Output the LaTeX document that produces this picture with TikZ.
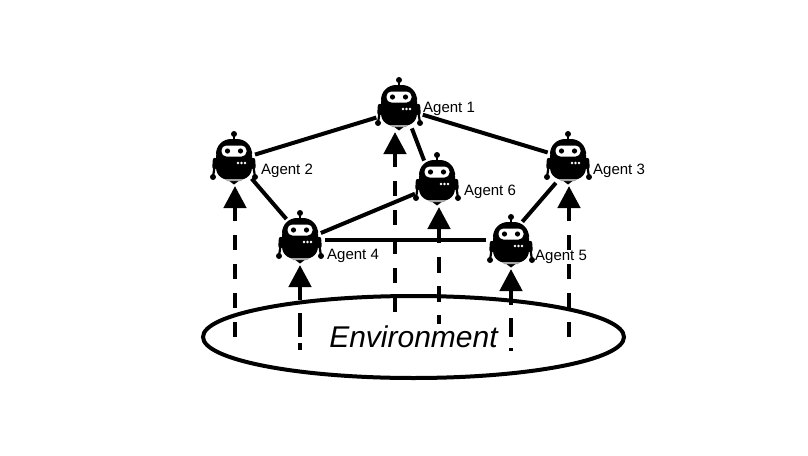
\documentclass[tikz,border=0pt]{standalone}
\usepackage{fontspec}
\setmainfont{Liberation Sans}
\usetikzlibrary{shapes.geometric,arrows.meta}

\tikzstyle{agent} = [circle, minimum size=50pt, inner sep=0pt, outer sep=0pt]
\tikzstyle{agentlabel} = [font=\fontsize{15}{18}\selectfont, inner sep=0pt, anchor=west]
\tikzstyle{link} = [line width=4pt]
\tikzstyle{input} = [line width=4.5pt, -{Triangle[length=22pt,width=22pt]}]
\tikzset{
  robot/.pic={
    \fill (0,-27) circle (3pt);
    \draw[line width=2pt] (0,-27) -- (0,-20);
    \fill[rounded corners=15pt] (-18,-22) rectangle (18,6);
    \fill (-18,-6) -- (18,-6) -- (18,6) .. controls (18,16) and (10,19.5) .. (0,19.5)
      .. controls (-10,19.5) and (-18,16) .. (-18,6) -- cycle;
    \fill (-6,19) -- (6,19) -- (0,23.5) -- cycle;
    \fill[gray!70] (-9,18) -- (9,18) -- (7,20) -- (-7,20) -- cycle;
    \fill[white, rounded corners=5pt] (-12.5,-15.5) rectangle (12.5,-4.5);
    \fill (-6.5,-10) circle (2.6pt);
    \fill (6.5,-10) circle (2.6pt);
    \foreach \dotx in {4,7.5,11} \fill[white] (\dotx,2) circle (1.3pt);
    \foreach \side in {-1,1} {
      \draw[line width=4.4pt, line cap=round] (\side*19,-1) -- (\side*19.5,6);
      \draw[line width=2.2pt] (\side*19.5,6) -- (\side*21,16);
      \fill (\side*21,16) circle (3pt);
    }
  }
}

\begin{document}
\begin{tikzpicture}[x=1pt,y=-1pt]
  \useasboundingbox (0,0) rectangle (808,455);

  \node (a1) [agent] at (399,107) {};
  \node (a2) [agent] at (234,161) {};
  \node (a3) [agent] at (568,161) {};
  \node (a4) [agent] at (300,240) {};
  \node (a5) [agent] at (511,244) {};
  \node (a6) [agent] at (437,182) {};
  \node (env) [ellipse, draw, line width=4pt, minimum width=421pt, minimum height=82pt, inner sep=0pt,
    font=\fontsize{30}{36}\selectfont\itshape] at (413.5,337) {Environment};

  \foreach \name in {a1,a2,a3,a4,a5,a6}
    \pic at (\name) {robot};

  \node [agentlabel] at (423,109) {Agent 1};
  \node [agentlabel] at (261,171) {Agent 2};
  \node [agentlabel] at (593,171) {Agent 3};
  \node [agentlabel] at (327,255.5) {Agent 4};
  \node [agentlabel] at (535,257) {Agent 5};
  \node [agentlabel] at (464,191.5) {Agent 6};

  \draw [link, shorten >=-3pt] (a1.205) -- (a2.17);
  \draw [link, shorten >=-3pt] (a1.-18) -- (a3.158);
  \draw [link] (a1.-59) -- (a6.121);
  \draw [link] (a2.-45) -- (a4.123);
  \draw [link] (a3.-119) -- (a5.63);
  \draw [link, shorten <=-3pt] (a4.19) -- (a6.208);
  \draw [link] (a4.east) -- (a5.west |- a4.east);

  % inputs from the environment
  \coordinate (e1) at (395,312);
  \coordinate (e2) at (235,337);
  \coordinate (e3) at (569,337);
  \coordinate (e4) at (300,350);
  \coordinate (e5) at (511,351);
  \coordinate (e6) at (439,324);
  \draw [input, dash pattern=on 15pt off 14pt] (e1) -- (a1.south -| e1);
  \draw [input, dash pattern=on 15pt off 14pt] (e2) -- (a2.south -| e2);
  \draw [input, dash pattern=on 15pt off 14pt] (e3) -- (a3.south -| e3);
  \draw [input, dash pattern=on 7pt off 6pt on 24pt off 13pt on 40pt off 1pt] (e4) -- (a4.south -| e4);
  \draw [input, dash pattern=on 3pt off 11pt on 19pt off 13pt on 40pt off 1pt] (e5) -- (a5.south -| e5);
  \draw [input, dash pattern=on 9pt off 13pt on 16pt off 13pt on 16pt off 14pt on 40pt off 1pt] (e6) -- (a6.south -| e6);
\end{tikzpicture}
\end{document}
